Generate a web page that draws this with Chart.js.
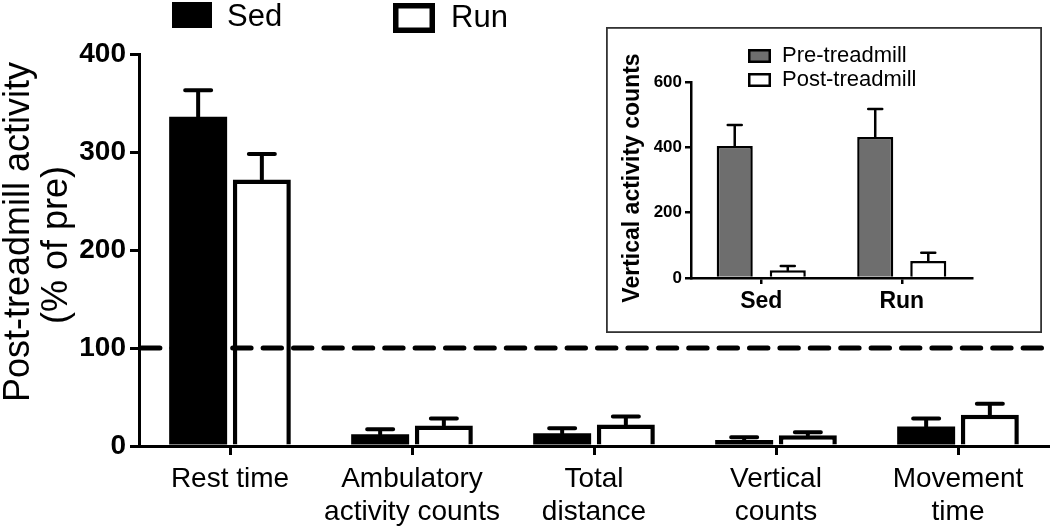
<!DOCTYPE html>
<html>
<head>
<meta charset="utf-8">
<script src="https://cdn.jsdelivr.net/npm/chart.js@4.4.1/dist/chart.umd.min.js"></script>
<style>
  html, body { margin:0; padding:0; background:#fff; }
  #wrap { position:relative; width:1050px; height:528px; }
  #main { position:absolute; left:0; top:0; }
  #inset { position:absolute; left:606px; top:27px; }
</style>
</head>
<body>
<div id="wrap">
  <canvas id="main" width="1050" height="528"></canvas>
  <canvas id="inset" width="436" height="306"></canvas>
</div>
<script>
// ---- main chart data ----
const categories = [['Rest time'], ['Ambulatory', 'activity counts'], ['Total', 'distance'], ['Vertical', 'counts'], ['Movement', 'time']];
const sedValues = [336, 12, 13, 6, 20];
const sedErrors = [27, 5, 5, 3, 8];
const runValues = [272, 21, 22, 11, 32];
const runErrors = [26, 7, 8, 3, 11];
const yTicks = [0, 100, 200, 300, 400];
const referenceLine = 100;
const seriesNames = ['Sed', 'Run'];
const yTitle = ['Post-treadmill activity', '(% of pre)'];

// ---- inset data ----
const insetCategories = ['Sed', 'Run'];
const preValues = [404, 432];
const preErrors = [64, 85];
const postValues = [24, 52];
const postErrors = [13, 25];
const insetTicks = [0, 200, 400, 600];
const insetNames = ['Pre-treadmill', 'Post-treadmill'];
const insetTitle = 'Vertical activity counts';

const FAM = "'Liberation Sans', Arial, Helvetica, sans-serif";

const errorBars = {
  id: 'errorBars',
  afterDatasetsDraw(chart, args, opts) {
    const ctx = chart.ctx;
    const ys = chart.scales.y;
    chart.data.datasets.forEach((ds, di) => {
      const meta = chart.getDatasetMeta(di);
      meta.data.forEach((el, i) => {
        const top = ys.getPixelForValue(ds.data[i] + ds.errors[i]);
        ctx.save();
        ctx.strokeStyle = '#000';
        ctx.lineWidth = opts.width;
        ctx.lineCap = 'round';
        ctx.beginPath();
        ctx.moveTo(el.x, el.y);
        ctx.lineTo(el.x, top);
        ctx.moveTo(el.x - opts.cap / 2, top);
        ctx.lineTo(el.x + opts.cap / 2, top);
        ctx.stroke();
        ctx.restore();
      });
    });
  }
};

const mainDecor = {
  id: 'mainDecor',
  afterDatasetsDraw(chart) {
    const ctx = chart.ctx;
    const ys = chart.scales.y;
    const a = chart.chartArea;
    const yy = ys.getPixelForValue(referenceLine);
    ctx.save();
    ctx.strokeStyle = '#000';
    ctx.lineWidth = 5;
    ctx.lineCap = 'round';
    ctx.setLineDash([18.4, 12]);
    ctx.beginPath();
    ctx.moveTo(a.left + 2.5, yy);
    ctx.lineTo(1050, yy);
    ctx.stroke();
    ctx.restore();
  },
  afterDraw(chart) {
    const ctx = chart.ctx;
    ctx.save();
    // legend
    ctx.fillStyle = '#000';
    ctx.fillRect(172, 2, 40, 26);
    ctx.strokeStyle = '#000';
    ctx.lineWidth = 5.5;
    ctx.strokeRect(393 + 2.75, 3 + 2.75, 42 - 5.5, 30 - 5.5);
    ctx.font = '31px ' + FAM;
    ctx.textBaseline = 'middle';
    ctx.textAlign = 'left';
    ctx.fillText(seriesNames[0], 227, 17);
    ctx.fillText(seriesNames[1], 451, 18);
    // y title
    ctx.font = '36px ' + FAM;
    ctx.textAlign = 'center';
    ctx.save();
    ctx.translate(19, 232);
    ctx.rotate(-Math.PI / 2);
    ctx.fillText(yTitle[0], 0, 0);
    ctx.restore();
    ctx.save();
    ctx.translate(57, 245);
    ctx.rotate(-Math.PI / 2);
    ctx.fillText(yTitle[1], 0, 0);
    ctx.restore();
    ctx.restore();
  }
};

new Chart(document.getElementById('main'), {
  type: 'bar',
  data: {
    labels: categories,
    datasets: [
      { label: seriesNames[0], data: sedValues, errors: sedErrors, backgroundColor: '#000', borderColor: '#000', borderWidth: 0,
        categoryPercentage: 0.70, barPercentage: 0.91 },
      { label: seriesNames[1], data: runValues, errors: runErrors, backgroundColor: '#fff', borderColor: '#000', borderWidth: 4.5,
        categoryPercentage: 0.70, barPercentage: 0.91 }
    ]
  },
  options: {
    responsive: false,
    animation: false,
    devicePixelRatio: 1,
    layout: { padding: { top: 54, right: 1, left: 0, bottom: 0 } },
    plugins: {
      legend: { display: false },
      tooltip: { enabled: false },
      errorBars: { width: 4, cap: 26 }
    },
    scales: {
      x: {
        grid: { display: true, drawOnChartArea: false, offset: false, tickLength: 9, color: '#000', lineWidth: 3 },
        border: { display: true, color: '#000', width: 3 },
        ticks: { font: { size: 28, family: FAM, lineHeight: 1.2 }, color: '#000', padding: 7, maxRotation: 0, autoSkip: false },
        afterFit(s) { s.height = 528 - 446; }
      },
      y: {
        min: 0, max: 400,
        afterBuildTicks(s) { s.ticks = yTicks.map(v => ({ value: v })); },
        grid: { display: true, drawOnChartArea: false, tickLength: 9, color: '#000', lineWidth: 3 },
        border: { display: true, color: '#000', width: 3 },
        ticks: { font: { size: 28, weight: 'bold', family: FAM }, color: '#000', padding: 4 },
        afterFit(s) { s.width = 139; }
      }
    }
  },
  plugins: [errorBars, mainDecor]
});

const insetDecor = {
  id: 'insetDecor',
  beforeDraw(chart) {
    const ctx = chart.ctx;
    ctx.save();
    ctx.fillStyle = '#fff';
    ctx.fillRect(0, 0, chart.width, chart.height);
    ctx.restore();
  },
  afterDraw(chart) {
    const ctx = chart.ctx;
    ctx.save();
    // frame
    ctx.strokeStyle = '#333';
    ctx.lineWidth = 1.8;
    ctx.strokeRect(0.9, 0.9, chart.width - 1.8, chart.height - 1.8);
    // legend
    ctx.lineWidth = 2.5;
    ctx.strokeStyle = '#000';
    ctx.fillStyle = '#6e6e6e';
    ctx.fillRect(142 + 1.25, 22 + 1.25, 23 - 2.5, 14 - 2.5);
    ctx.strokeRect(142 + 1.25, 22 + 1.25, 23 - 2.5, 14 - 2.5);
    ctx.fillStyle = '#fff';
    ctx.fillRect(142 + 1.25, 46 + 1.25, 23 - 2.5, 14 - 2.5);
    ctx.strokeRect(142 + 1.25, 46 + 1.25, 23 - 2.5, 14 - 2.5);
    ctx.fillStyle = '#000';
    ctx.font = '22px ' + FAM;
    ctx.textBaseline = 'middle';
    ctx.textAlign = 'left';
    ctx.fillText(insetNames[0], 176, 29);
    ctx.fillText(insetNames[1], 176, 53);
    // y title
    ctx.font = 'bold 23px ' + FAM;
    ctx.textAlign = 'center';
    ctx.translate(27, 151);
    ctx.rotate(-Math.PI / 2);
    ctx.fillText(insetTitle, 0, 0);
    ctx.restore();
  }
};

new Chart(document.getElementById('inset'), {
  type: 'bar',
  data: {
    labels: insetCategories,
    datasets: [
      { label: insetNames[0], data: preValues, errors: preErrors, backgroundColor: '#6e6e6e', borderColor: '#000', borderWidth: 2.5,
        categoryPercentage: 0.755, barPercentage: 0.68 },
      { label: insetNames[1], data: postValues, errors: postErrors, backgroundColor: '#fff', borderColor: '#000', borderWidth: 2.5,
        categoryPercentage: 0.755, barPercentage: 0.68 }
    ]
  },
  options: {
    responsive: false,
    animation: false,
    devicePixelRatio: 1,
    layout: { padding: { top: 55, right: 70, left: 0, bottom: 0 } },
    plugins: {
      legend: { display: false },
      tooltip: { enabled: false },
      errorBars: { width: 2.5, cap: 14 }
    },
    scales: {
      x: {
        grid: { display: true, drawOnChartArea: false, offset: false, tickLength: 6, color: '#000', lineWidth: 2.5 },
        border: { display: true, color: '#000', width: 2.5 },
        ticks: { font: { size: 23, weight: 'bold', family: FAM }, color: '#000', padding: 4, maxRotation: 0 },
        afterFit(s) { s.height = 306 - 251; }
      },
      y: {
        min: 0, max: 600,
        afterBuildTicks(s) { s.ticks = insetTicks.map(v => ({ value: v })); },
        grid: { display: true, drawOnChartArea: false, tickLength: 6, color: '#000', lineWidth: 2.5 },
        border: { display: true, color: '#000', width: 2.5 },
        ticks: { font: { size: 17, weight: 'bold', family: FAM }, color: '#000', padding: 3 },
        afterFit(s) { s.width = 85; }
      }
    }
  },
  plugins: [insetDecor, errorBars]
});
</script>
</body>
</html>
